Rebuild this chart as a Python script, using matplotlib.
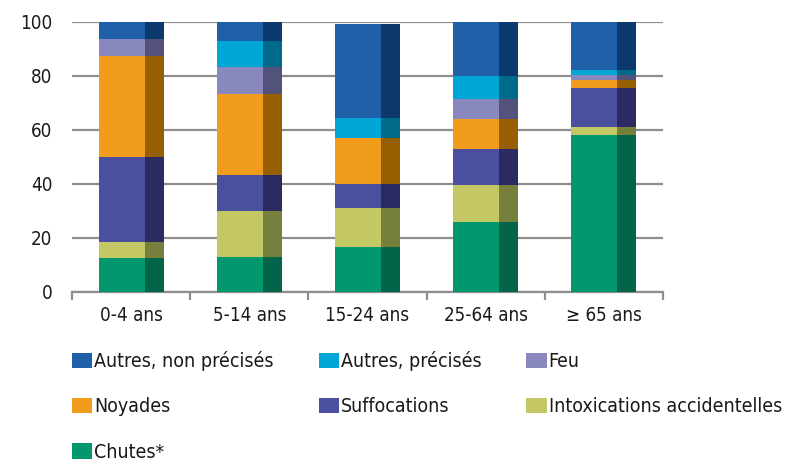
import matplotlib
matplotlib.use("Agg")
import matplotlib.pyplot as plt
from matplotlib.patches import Patch
import numpy as np

plt.rcParams["font.family"] = ["DejaVu Sans"]
plt.rcParams["font.stretch"] = "condensed"

categories = ["0-4 ans", "5-14 ans", "15-24 ans", "25-64 ans", "\u2265 65 ans"]

# stacked shares (%), bottom to top
chutes = [12.3, 12.8, 16.5, 25.8, 58.0]
intoxications = [6.1, 17.0, 14.5, 13.7, 3.0]
suffocations = [31.5, 13.4, 8.9, 13.3, 14.4]
noyades = [37.4, 29.9, 17.1, 11.2, 3.1]
feu = [6.3, 10.1, 0.0, 7.4, 1.7]
autres_precises = [0.0, 9.8, 7.3, 8.5, 1.8]
autres_non_precises = [6.4, 7.0, 34.8, 20.1, 18.0]

series = [
    ("Chutes*", chutes, "#03976e", "#02654a"),
    ("Intoxications accidentelles", intoxications, "#c3c864", "#767f3c"),
    ("Suffocations", suffocations, "#4a509e", "#2c2a62"),
    ("Noyades", noyades, "#f29c1e", "#955f02"),
    ("Feu", feu, "#8888be", "#52527a"),
    ("Autres, pr\u00e9cis\u00e9s", autres_precises, "#00a6d6", "#006a88"),
    ("Autres, non pr\u00e9cis\u00e9s", autres_non_precises, "#2060a8", "#0c3a6e"),
]

fig = plt.figure(figsize=(8.06, 4.61), dpi=100)
ax = fig.add_axes([72 / 806, 1 - 291.7 / 461, (663 - 72) / 806, 270 / 461])

x = np.arange(len(categories))
w_front, w_side = 0.39, 0.16
bottom = np.zeros(len(categories))
for name, vals, c_front, c_side in series:
    vals = np.array(vals)
    ax.bar(x - 0.275, vals, w_front, bottom=bottom, align="edge", color=c_front, zorder=3)
    ax.bar(x - 0.275 + w_front, vals, w_side, bottom=bottom, align="edge", color=c_side, zorder=3)
    bottom += vals

ax.set_xlim(-0.5, len(categories) - 0.5)
ax.set_ylim(0, 100)
ax.set_yticks(range(0, 101, 20))
ax.yaxis.grid(True, color="#8e8e8e", linewidth=1.6, zorder=0)
ax.set_axisbelow(True)
for s in ["top", "right", "left"]:
    ax.spines[s].set_visible(False)
ax.spines["bottom"].set_color("#8e8e8e")
ax.spines["bottom"].set_linewidth(1.6)

ax.set_xticks(x)
ax.set_xticklabels(categories)
ax.set_xticks(np.arange(-0.5, len(categories)), minor=True)
ax.tick_params(axis="x", which="major", length=0, pad=10, labelsize=13.5, labelcolor="#1a1a1a")
ax.tick_params(axis="x", which="minor", length=6, width=1.6, color="#8e8e8e", direction="out")
ax.tick_params(axis="y", length=0, pad=14, labelsize=13.5, labelcolor="#1a1a1a")

# legend, filled column by column
by_name = {name: c for name, _, c, _ in series}
order = [
    "Autres, non pr\u00e9cis\u00e9s", "Noyades", "Chutes*",
    "Autres, pr\u00e9cis\u00e9s", "Suffocations",
    "Feu", "Intoxications accidentelles",
]
handles = [Patch(facecolor=by_name[n], edgecolor="none") for n in order]
fig.legend(
    handles, order, loc="upper left", bbox_to_anchor=(72 / 806, 1 - 351 / 461),
    ncol=3, frameon=False, fontsize=14, borderpad=0, borderaxespad=0,
    handlelength=1.05, handleheight=0.85, handletextpad=0.1,
    columnspacing=2.3, labelspacing=1.35, labelcolor="#1a1a1a",
)

fig.savefig("out.png", dpi=100)
